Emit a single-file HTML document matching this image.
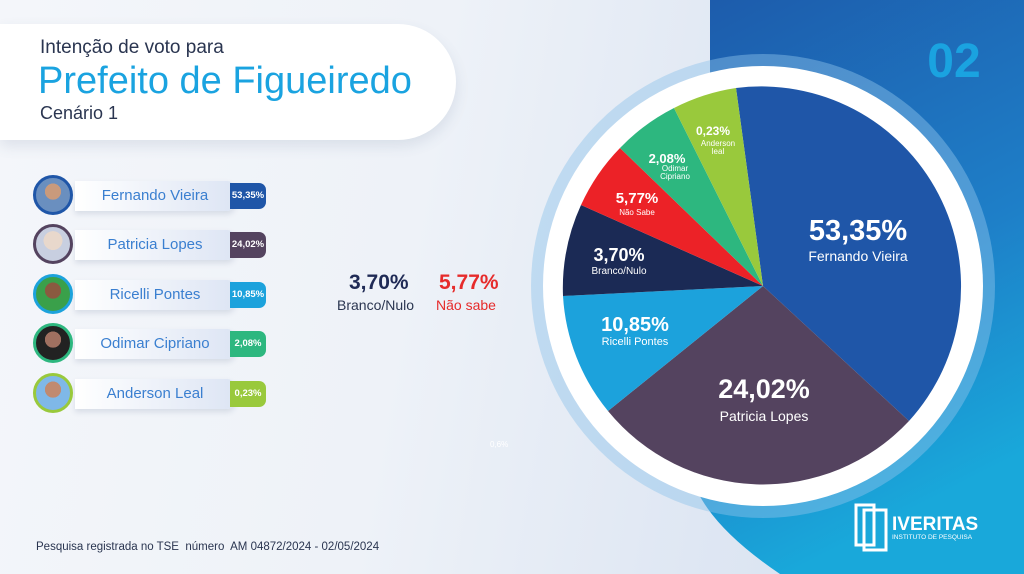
<!DOCTYPE html>
<html><head><meta charset="utf-8"><style>
*{margin:0;padding:0;box-sizing:border-box}
body{width:1024px;height:574px;overflow:hidden;position:relative;font-family:"Liberation Sans",sans-serif;background:linear-gradient(100deg,#f4f6fa 0%,#eef2f8 40%,#dfe7f3 70%,#d3def0 100%)}
.abs{position:absolute}
.card{left:0;top:24px;width:456px;height:116px;background:#fff;border-radius:0 58px 58px 0;box-shadow:0 6px 14px rgba(60,80,120,.12)}
.row{position:absolute;left:30px;height:40px}
.av{position:absolute;left:3px;top:0;width:40px;height:40px;border-radius:50%;border:3px solid;background:radial-gradient(circle at 50% 40%,#c99a7c 0 30%,#6a8fbf 31%)}
.pill{position:absolute;left:45px;top:6px;width:160px;height:30px;border-radius:0 8px 8px 0;background:linear-gradient(90deg,#fff,#dde5f4);box-shadow:0 3px 6px rgba(60,80,120,.15);color:#3a7fd0;font-size:15px;text-align:center;line-height:30px}
.pct{position:absolute;left:200px;top:8px;width:36px;height:26px;border-radius:0 7px 7px 0;color:#fff;font-size:9.5px;font-weight:bold;line-height:26px;text-align:center}
</style></head><body>
<svg class="abs" style="left:0;top:0" width="1024" height="574">
<defs>
<linearGradient id="bg" x1="0" y1="0" x2="0.3" y2="1"><stop offset="0" stop-color="#1d5bab"/><stop offset="0.6" stop-color="#1e7fc8"/><stop offset="1" stop-color="#19a8da"/></linearGradient>
</defs>
<path d="M710 0 H1024 V574 H780 Q700 520 690 470 L710 440 Z" fill="url(#bg)"/>
<circle cx="763" cy="286" r="232" fill="#8ec3ea" opacity="0.45"/>
<circle cx="763" cy="286" r="220" fill="#fff"/>
<g>
<path d="M763 286 L736 88 A200 200 0 0 1 909 421 Z" fill="#1f56a8"/>
<path d="M763 286 L909 421 A200 200 0 0 1 608 411 Z" fill="#54435f"/>
<path d="M763 286 L608 411 A200 200 0 0 1 563 296 Z" fill="#1ca2dc"/>
<path d="M763 286 L563 296 A200 200 0 0 1 581 205 Z" fill="#1b2a55"/>
<path d="M763 286 L581 205 A200 200 0 0 1 620 148 Z" fill="#ec2227"/>
<path d="M763 286 L620 148 A200 200 0 0 1 674 108 Z" fill="#2db77f"/>
<path d="M763 286 L674 108 A200 200 0 0 1 736 88 Z" fill="#99c93c"/>
</g>
<g fill="#fff" font-family="Liberation Sans" text-anchor="middle" font-weight="bold">
<text x="858" y="240" font-size="29">53,35%</text>
<text x="858" y="261" font-size="14" font-weight="normal">Fernando Vieira</text>
<text x="764" y="398" font-size="27">24,02%</text>
<text x="764" y="421" font-size="14" font-weight="normal">Patricia Lopes</text>
<text x="635" y="331" font-size="20">10,85%</text>
<text x="635" y="345" font-size="11" font-weight="normal">Ricelli Pontes</text>
<text x="619" y="261" font-size="18">3,70%</text>
<text x="619" y="274" font-size="10" font-weight="normal">Branco/Nulo</text>
<text x="637" y="203" font-size="15">5,77%</text>
<text x="637" y="215" font-size="8" font-weight="normal">Não Sabe</text>
<text x="667" y="163" font-size="13">2,08%</text>
<text x="675" y="171" font-size="8" font-weight="normal">Odimar</text>
<text x="675" y="179" font-size="8" font-weight="normal">Cipriano</text>
<text x="713" y="135" font-size="12">0,23%</text>
<text x="718" y="146" font-size="8" font-weight="normal">Anderson</text>
<text x="718" y="154" font-size="8" font-weight="normal">leal</text>
<text x="954" y="77" font-size="48" fill="#1aa3e0">02</text>
</g>
<g fill="none" stroke="#fff" stroke-width="3">
<rect x="856" y="505" width="18" height="40"/><rect x="864" y="510" width="22" height="40"/>
</g>
<text x="892" y="530" fill="#fff" font-size="19" font-weight="bold" font-family="Liberation Sans">IVERITAS</text>
<text x="892" y="539" fill="#fff" font-size="6.5" font-family="Liberation Sans">INSTITUTO DE PESQUISA</text>
<text x="490" y="447" fill="#fff" font-size="8" font-family="Liberation Sans">0,6%</text>
</svg>
<div class="abs card"></div>
<div class="abs" style="left:40px;top:37px;font-size:19px;color:#2a3550">Intenção de voto para</div>
<div class="abs" style="left:38px;top:60px;font-size:38px;color:#1aa3e0">Prefeito de Figueiredo</div>
<div class="abs" style="left:40px;top:103px;font-size:18px;color:#2a3550">Cenário 1</div>

<div class="row" style="top:175px"><div class="pill">Fernando Vieira</div><div class="pct" style="background:#1f56a8">53,35%</div><div class="av" style="border-color:#1f56a8"></div></div>
<div class="row" style="top:224px"><div class="pill">Patricia Lopes</div><div class="pct" style="background:#54435f">24,02%</div><div class="av" style="border-color:#54435f;background:radial-gradient(circle at 50% 40%,#e8d8cc 0 35%,#c8cfe0 36%)"></div></div>
<div class="row" style="top:274px"><div class="pill">Ricelli Pontes</div><div class="pct" style="background:#1ca2dc">10,85%</div><div class="av" style="border-color:#1ca2dc;background:radial-gradient(circle at 50% 40%,#8a5a40 0 30%,#3aa04a 31%)"></div></div>
<div class="row" style="top:323px"><div class="pill">Odimar Cipriano</div><div class="pct" style="background:#2db77f">2,08%</div><div class="av" style="border-color:#2db77f;background:radial-gradient(circle at 50% 40%,#a07060 0 30%,#222 31%)"></div></div>
<div class="row" style="top:373px"><div class="pill">Anderson Leal</div><div class="pct" style="background:#99c93c">0,23%</div><div class="av" style="border-color:#99c93c;background:radial-gradient(circle at 50% 40%,#c08a70 0 30%,#7fb8e8 31%)"></div></div>

<div class="abs" style="left:349px;top:271px;font-size:21px;font-weight:bold;color:#1f2a55">3,70%</div>
<div class="abs" style="left:337px;top:297px;font-size:14px;color:#2a3550">Branco/Nulo</div>
<div class="abs" style="left:439px;top:271px;font-size:21px;font-weight:bold;color:#e62b2b">5,77%</div>
<div class="abs" style="left:436px;top:297px;font-size:14px;color:#e62b2b">Não sabe</div>
<div class="abs" style="left:36px;top:541px;font-size:11.5px;color:#2a3550">Pesquisa registrada no TSE&nbsp; número&nbsp; AM 04872/2024 - 02/05/2024</div>
</body></html>
